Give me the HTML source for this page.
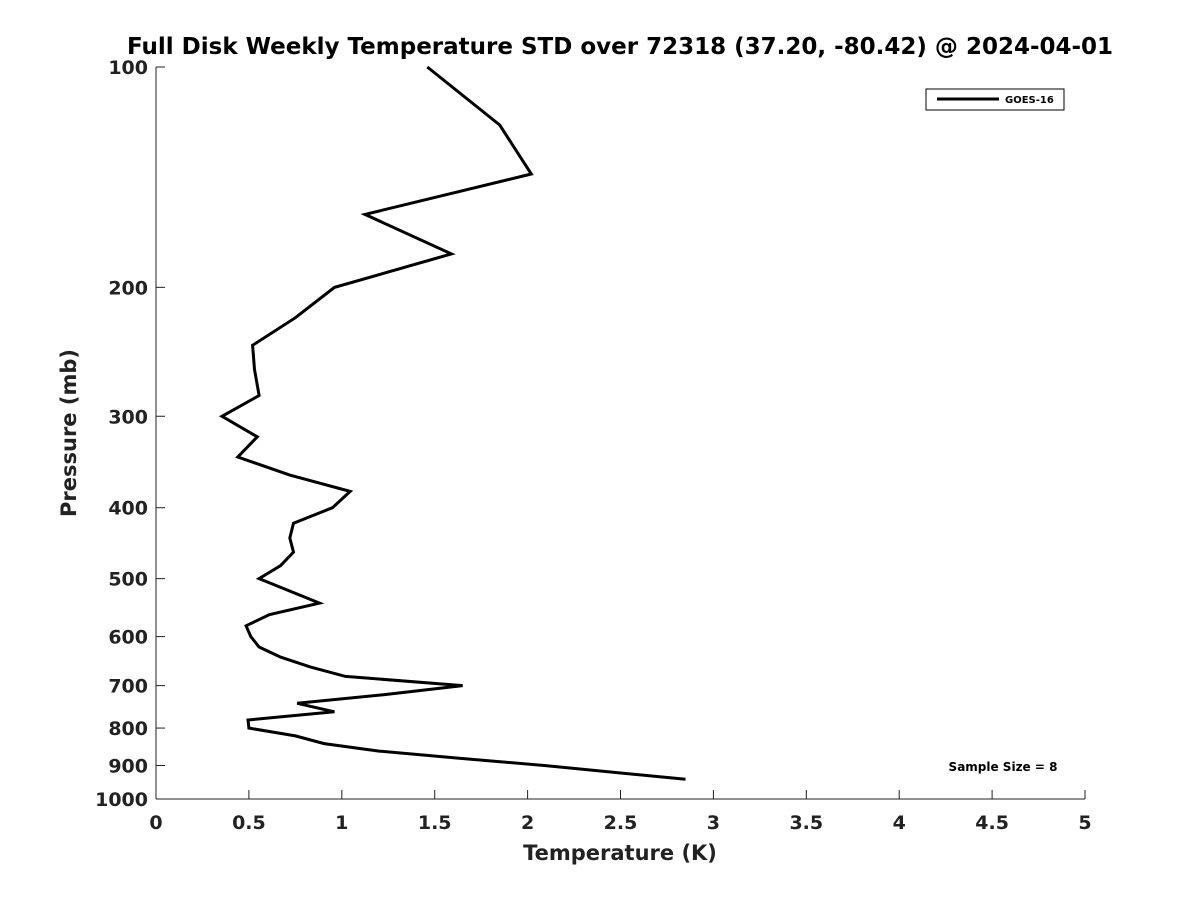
<!DOCTYPE html>
<html><head><meta charset="utf-8"><style>
body{margin:0;background:#fff}
svg text{font-family:"DejaVu Sans","Liberation Sans",sans-serif;font-weight:bold;fill:#222}
</style></head><body>
<svg width="1200" height="900" xmlns="http://www.w3.org/2000/svg">
<text x="620" y="54" text-anchor="middle" font-size="23" style="fill:#000">Full Disk Weekly Temperature STD over 72318 (37.20, -80.42) @ 2024-04-01</text>
<g id="axes"></g>
<g id="series"></g>
<g>
<rect x="926" y="89" width="138" height="21" fill="#fff" stroke="#000" stroke-width="1"/>
<line x1="937" y1="99" x2="999" y2="99" stroke="#000" stroke-width="3"/>
<text x="1005" y="103" font-size="10" style="fill:#000">GOES-16</text>
</g>
<text x="1003" y="771" text-anchor="middle" font-size="12" style="fill:#000">Sample Size = 8</text>
<text x="620" y="860" text-anchor="middle" font-size="21">Temperature (K)</text>
<text x="0" y="0" transform="translate(76,433) rotate(-90)" text-anchor="middle" font-size="21">Pressure (mb)</text>
</svg>
<script>
const temps=[1.46,1.85,2.02,1.125,1.59,0.96,0.75,0.52,0.53,0.555,0.355,0.545,0.44,0.72,1.045,0.95,0.74,0.72,0.74,0.67,0.555,0.88,0.61,0.485,0.51,0.555,0.67,0.83,1.02,1.65,1.23,0.76,0.96,0.495,0.5,0.75,0.905,1.2,1.64,2.09,2.85];
const pressures=[100,120,140,159,180,200,220,240,259,281,300,320,341,361,380,400,420,440,460,480,500,540,560,580,600,620,640,660,680,700,720,740,760,780,800,820,840,860,880,900,940];
const xTicks=[0,0.5,1,1.5,2,2.5,3,3.5,4,4.5,5];
const xTickLabels=["0","0.5","1","1.5","2","2.5","3","3.5","4","4.5","5"];
const yTicks=[100,200,300,400,500,600,700,800,900,1000];
const yTickLabels=["100","200","300","400","500","600","700","800","900","1000"];
const X0=156,X1=1085,Y0=67,Y1=799;
const xs=v=>X0+(v-0)/(5-0)*(X1-X0);
const ys=p=>Y0+Math.log10(p/100)*(Y1-Y0);
const NS="http://www.w3.org/2000/svg";
const ax=document.getElementById('axes');
function mk(t,a,parent){const e=document.createElementNS(NS,t);for(const k in a)e.setAttribute(k,a[k]);parent.appendChild(e);return e;}
const xl=mk('line',{x1:X0,y1:Y1,x2:X1,y2:Y1,stroke:'#222','stroke-width':1},ax);


const yl=mk('line',{x1:X0,y1:Y0,x2:X0,y2:Y1,stroke:'#222','stroke-width':1},ax);


xTicks.forEach((v,i)=>{
 const tk=mk('line',{x1:xs(v),y1:Y1,x2:xs(v),y2:Y1-9,stroke:'#222'},ax);
 
 
 const t=mk('text',{x:xs(v),y:Y1+30,'text-anchor':'middle','font-size':19},ax);
 t.textContent=xTickLabels[i];
 
 
});
yTicks.forEach((v,i)=>{
 const tk=mk('line',{x1:X0,y1:ys(v),x2:X0+9,y2:ys(v),stroke:'#222'},ax);
 
 
 const t=mk('text',{x:X0-8,y:ys(v)+7,'text-anchor':'end','font-size':19},ax);
 t.textContent=yTickLabels[i];
 
 
});
const pts=temps.map((t,i)=>xs(t).toFixed(1)+','+ys(pressures[i]).toFixed(1)).join(' ');
const pl=mk('polyline',{points:pts,fill:'none',stroke:'#000','stroke-width':3,'stroke-linejoin':'miter'},document.getElementById('series'));


</script>
</body></html>
